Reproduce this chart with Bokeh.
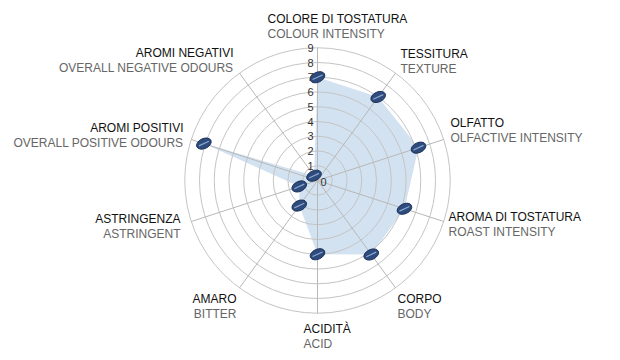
import math
from bokeh.plotting import figure
from bokeh.models import Range1d
from bokeh.core.properties import value
from bokeh.embed import file_html
from bokeh.resources import INLINE

# ---- data ----
labels_it = ["COLORE DI TOSTATURA", "TESSITURA", "OLFATTO", "AROMA DI TOSTATURA", "CORPO",
             "ACIDITÀ", "AMARO", "ASTRINGENZA", "AROMI POSITIVI", "AROMI NEGATIVI"]
labels_en = ["COLOUR INTENSITY", "TEXTURE", "OLFACTIVE INTENSITY", "ROAST INTENSITY", "BODY",
             "ACID", "BITTER", "ASTRINGENT", "OVERALL POSITIVE ODOURS", "OVERALL NEGATIVE ODOURS"]
scores = [7.0, 7.0, 7.2, 6.2, 6.2, 5.0, 2.1, 1.3, 8.1, 0.4]
tick_values = [0, 1, 2, 3, 4, 5, 6, 7, 8, 9]
tick_labels = ["0", "1", "2", "3", "4", "5", "6", "7", "8", "9"]
r_max = 9

# ---- layout ----
W, H = 612, 352
S = 14.75                   # pixels per unit
CX, CY = 317, 180           # centre in frame pixels
FONT = value("Liberation Sans")

p = figure(width=W, height=H, output_backend="svg", toolbar_location=None,
           x_range=Range1d(-CX / S, (W - CX) / S), y_range=Range1d(-(H - CY) / S, CY / S),
           min_border=0)
p.axis.visible = False
p.grid.visible = False
p.outline_line_color = None
p.background_fill_color = "white"

n = len(labels_it)
ang = [math.radians(90 - 360.0 / n * i) for i in range(n)]

# filled area
xs = [v * math.cos(a) for v, a in zip(scores, ang)]
ys = [v * math.sin(a) for v, a in zip(scores, ang)]
p.patch(xs, ys, fill_color="#d3e2f1", fill_alpha=1.0, line_color=None)

# grid circles
rings = tick_values[1:]
p.circle(x=[0] * len(rings), y=[0] * len(rings), radius=rings, fill_color=None,
         line_color="#c4c4c4", line_width=1)
# spokes
p.segment(x0=[0] * n, y0=[0] * n,
          x1=[r_max * math.cos(a) for a in ang], y1=[r_max * math.sin(a) for a in ang],
          line_color="#b8b8b8", line_width=1)

# tick labels
p.text(x=[-4 / S] * (len(tick_values) - 1), y=tick_values[1:], text=tick_labels[1:],
       text_align="right", text_baseline="middle", text_font=FONT,
       text_font_size="11px", text_color="#333333")
p.text(x=[3 / S], y=[-1 / S], text=[tick_labels[0]], text_align="left", text_baseline="middle",
       text_font=FONT, text_font_size="11px", text_color="#333333")

# beans
ba = math.radians(25)
p.ellipse(x=xs, y=ys, width=15.5 / S, height=10 / S, angle=ba,
          fill_color="#2d4b7d", line_color="#1c3158", line_width=1)
hl = 5.5 / S
p.segment(x0=[x - hl * math.cos(ba) for x in xs], y0=[y - hl * math.sin(ba) for y in ys],
          x1=[x + hl * math.cos(ba) for x in xs], y1=[y + hl * math.sin(ba) for y in ys],
          line_color="#8ea7cf", line_width=1.2)

# category labels (image pixel anchors: x, y of first line, alignment)
anchors = [(267, 18, "left"), (400, 53, "left"), (450, 122, "left"), (448, 216, "left"),
           (397, 298, "left"), (303, 328, "left"), (236, 298, "right"), (180, 218, "right"),
           (183, 127, "right"), (233, 52, "right")]
for (px, py, al), t1, t2 in zip(anchors, labels_it, labels_en):
    x = (px - CX) / S
    y1 = (CY - py) / S
    y2 = (CY - (py + 15)) / S
    p.text(x=[x], y=[y1], text=[t1], text_align=al, text_baseline="middle", text_font=FONT,
           text_font_size="12px", text_color="#111111")
    p.text(x=[x], y=[y2], text=[t2], text_align=al, text_baseline="middle", text_font=FONT,
           text_font_size="12px", text_color="#666666")

open("out.html", "w").write(file_html(p, INLINE))
